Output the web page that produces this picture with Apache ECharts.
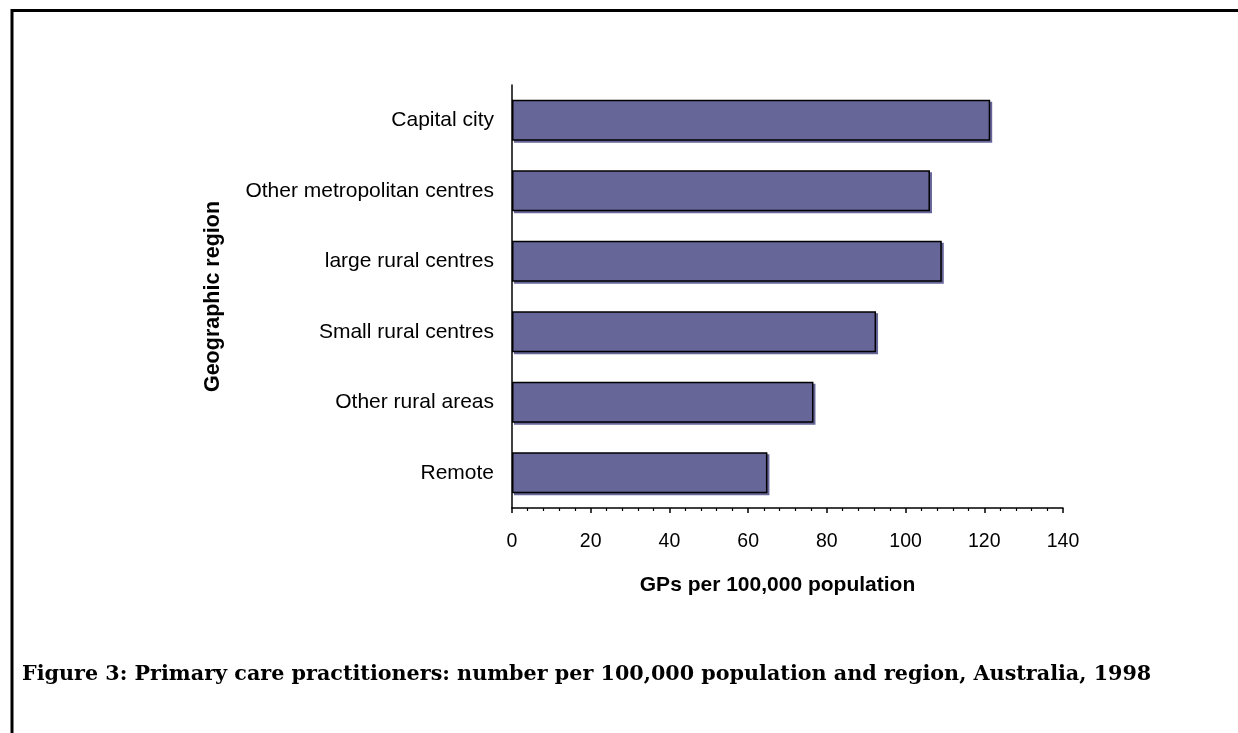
<!DOCTYPE html>
<html>
<head>
<meta charset="utf-8">
<script src="https://cdn.jsdelivr.net/npm/echarts@6/dist/echarts.min.js"></script>
<style>
html,body{margin:0;padding:0;background:#fff;}
#chart{width:1238px;height:733px;}
</style>
</head>
<body>
<div id="chart"></div>
<script>
const categories = ["Capital city", "Other metropolitan centres", "large rural centres", "Small rural centres", "Other rural areas", "Remote"];
const values = [121.5, 106.2, 109.2, 92.5, 76.6, 64.9];
const xTicks = [0, 20, 40, 60, 80, 100, 120, 140];
const xAxisTitle = "GPs per 100,000 population";
const yAxisTitle = "Geographic region";
const caption = "Figure 3: Primary care practitioners: number per 100,000 population and region, Australia, 1998";

const chart = echarts.init(document.getElementById('chart'));
chart.setOption({
  animation: false,
  backgroundColor: '#ffffff',
  grid: { left: 512, right: 175, top: 85, bottom: 225, containLabel: false },
  xAxis: {
    type: 'value',
    min: xTicks[0], max: xTicks[xTicks.length - 1], interval: xTicks[1] - xTicks[0],
    name: xAxisTitle, nameLocation: 'middle', nameGap: 67,
    nameTextStyle: { fontFamily: 'Liberation Sans, Arial', fontWeight: 'bold', fontSize: 21, color: '#000', padding: [0, 20, 0, 0] },
    axisLine: { show: true, lineStyle: { color: '#000', width: 1.5 } },
    axisTick: { show: true, length: 5, lineStyle: { color: '#000', width: 1.5 } },
    minorTick: { show: true, splitNumber: 5, length: 3, lineStyle: { color: '#000', width: 1.2 } },
    splitLine: { show: false },
    axisLabel: { fontFamily: 'Liberation Sans, Arial', fontSize: 19.5, color: '#000', margin: 24 }
  },
  yAxis: {
    type: 'category', data: categories, inverse: true,
    name: yAxisTitle, nameLocation: 'middle', nameGap: 288, nameRotate: 90,
    nameTextStyle: { fontFamily: 'Liberation Sans, Arial', fontWeight: 'bold', fontSize: 21.5, color: '#000' },
    axisLine: { show: true, lineStyle: { color: '#000', width: 1.5 } },
    axisTick: { show: false },
    axisLabel: { fontFamily: 'Liberation Sans, Arial', fontSize: 21, color: '#000', margin: 18 }
  },
  series: [{
    type: 'bar', data: values, barCategoryGap: '42%',
    itemStyle: { color: '#666699', borderColor: '#000', borderWidth: 1.5,
      shadowColor: '#666699', shadowOffsetX: 2, shadowOffsetY: 2, shadowBlur: 0 }
  }],
  graphic: [
    { type: 'line', shape: { x1: 12, y1: 10.5, x2: 1238, y2: 10.5 }, style: { stroke: '#000', lineWidth: 3 } },
    { type: 'line', shape: { x1: 12, y1: 9, x2: 12, y2: 733 }, style: { stroke: '#000', lineWidth: 3 } },
    { type: 'text', left: 22, top: 664, style: { text: caption, font: 'bold 20.7px "DejaVu Serif", serif', fill: '#000' } }
  ]
});
</script>
</body>
</html>
